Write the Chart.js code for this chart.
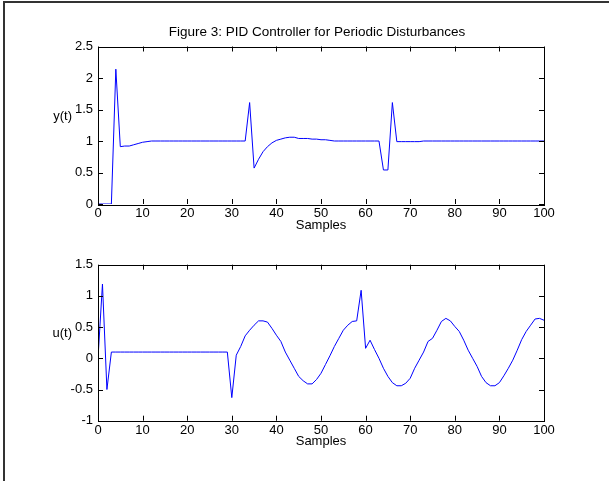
<!DOCTYPE html>
<html>
<head>
<meta charset="utf-8">
<script src="https://cdn.jsdelivr.net/npm/chart.js@4"></script>
<style>
  body { margin: 0; background: #fff; }
  #page { position: relative; width: 609px; height: 481px; overflow: hidden; }
  #frame { position: absolute; left: 3px; top: 1px; width: 620px; height: 500px;
           border-left: 2px solid #333; border-top: 2px solid #333; }
  .box { position: absolute; left: 0; width: 609px; }
</style>
</head>
<body>
<div id="page">
  <div class="box" style="top:0;height:240px"><canvas id="topChart"></canvas></div>
  <div class="box" style="top:240px;height:241px"><canvas id="bottomChart"></canvas></div>
  <div id="frame"></div>
</div>
<script>
// chart data
const figTitle = 'Figure 3: PID Controller for Periodic Disturbances';
const xTicks = [0, 10, 20, 30, 40, 50, 60, 70, 80, 90, 100];
const yTicksTop = [0, 0.5, 1, 1.5, 2, 2.5];
const yTicksBottom = [-1, -0.5, 0, 0.5, 1, 1.5];

const samples = [];
for (let i = 0; i <= 100; i++) samples.push(i);

// y(t), samples 0..100
const yOut = [
  0, 0, 0, 0, 2.14, 0.91, 0.92, 0.92, 0.94, 0.96,      // 0-9
  0.98, 0.99, 1, 1, 1, 1, 1, 1, 1, 1,                  // 10-19
  1, 1, 1, 1, 1, 1, 1, 1, 1, 1,                        // 20-29
  1, 1, 1, 1, 1.61, 0.57, 0.71, 0.83, 0.91, 0.97,      // 30-39
  1.01, 1.03, 1.05, 1.06, 1.06, 1.04, 1.04, 1.04, 1.03, 1.03, // 40-49
  1.02, 1.02, 1.01, 1, 1, 1, 1, 1, 1, 1,               // 50-59
  1, 1, 1, 1, 0.54, 0.54, 1.61, 0.99, 0.99, 0.99,      // 60-69
  0.99, 0.99, 0.99, 1, 1, 1, 1, 1, 1, 1,               // 70-79
  1, 1, 1, 1, 1, 1, 1, 1, 1, 1,                        // 80-89
  1, 1, 1, 1, 1, 1, 1, 1, 1, 1,                        // 90-99
  1                                                    // 100
];

// u(t), samples 0..100
const uIn = [
  0, 1.19, -0.5, 0.1, 0.1, 0.1, 0.1, 0.1, 0.1, 0.1,    // 0-9
  0.1, 0.1, 0.1, 0.1, 0.1, 0.1, 0.1, 0.1, 0.1, 0.1,    // 10-19
  0.1, 0.1, 0.1, 0.1, 0.1, 0.1, 0.1, 0.1, 0.1, 0.1,    // 20-29
  -0.63, 0.05, 0.19, 0.36, 0.45, 0.53, 0.6, 0.6, 0.58, 0.48, // 30-39
  0.37, 0.27, 0.1, -0.03, -0.16, -0.29, -0.36, -0.41, -0.41, -0.34, // 40-49
  -0.24, -0.1, 0.04, 0.19, 0.32, 0.45, 0.53, 0.59, 0.6, 1.09, // 50-59
  0.16, 0.29, 0.14, 0, -0.16, -0.29, -0.39, -0.44, -0.44, -0.4, // 60-69
  -0.32, -0.16, -0.03, 0.1, 0.27, 0.32, 0.45, 0.59, 0.64, 0.6, // 70-79
  0.51, 0.43, 0.29, 0.13, 0, -0.13, -0.29, -0.39, -0.44, -0.44, // 80-89
  -0.39, -0.28, -0.16, -0.03, 0.13, 0.3, 0.43, 0.53, 0.63, 0.64, // 90-99
  0.61                                                 // 100
];

const FONT = 'Arial, "Liberation Sans", sans-serif';

// box + inward ticks + labels (matlab style axes)
const axesPlugin = {
  id: 'axesBox',
  afterDraw(chart, args, opts) {
    const ctx = chart.ctx;
    const a = chart.chartArea;
    const xs = chart.scales.x, ys = chart.scales.y;
    ctx.save();
    ctx.strokeStyle = '#000';
    ctx.lineWidth = 1;
    ctx.beginPath();
    xs.ticks.forEach(t => {
      const px = Math.round(xs.getPixelForValue(t.value)) + 0.5;
      ctx.moveTo(px, a.bottom); ctx.lineTo(px, a.bottom - 5);
      ctx.moveTo(px, a.top); ctx.lineTo(px, a.top + 5);
    });
    ys.ticks.forEach(t => {
      const py = Math.round(ys.getPixelForValue(t.value)) + 0.5;
      ctx.moveTo(a.left, py); ctx.lineTo(a.left + 5, py);
      ctx.moveTo(a.right, py); ctx.lineTo(a.right - 5, py);
    });
    ctx.stroke();
    ctx.strokeRect(Math.round(a.left) + 0.5, Math.round(a.top) + 0.5,
      Math.round(a.right - a.left), Math.round(a.bottom - a.top));

    ctx.fillStyle = '#000';
    ctx.font = '13px ' + FONT;
    ctx.textBaseline = 'middle';
    ctx.textAlign = 'center';
    ctx.fillText('Samples', (a.left + a.right) / 2, a.bottom + 21);
    ctx.textAlign = 'right';
    ctx.fillText(opts.yLabel, a.left - 26, (a.top + a.bottom) / 2 - 9);
    if (opts.title) {
      ctx.font = '13.5px ' + FONT;
      ctx.textAlign = 'center';
      ctx.fillText(opts.title, (a.left + a.right) / 2 - 4, a.top - 14);
    }
    ctx.restore();
  }
};

function makeChart(id, values, yMin, yMax, yTickList, pad, xAxisH, yLabel, title) {
  return new Chart(document.getElementById(id), {
    type: 'line',
    data: {
      datasets: [{
        data: samples.map((s, i) => ({ x: s, y: values[i] })),
        borderColor: '#0000ff',
        borderWidth: 1,
        pointRadius: 0,
        tension: 0,
        fill: false
      }]
    },
    options: {
      responsive: true,
      maintainAspectRatio: false,
      animation: false,
      events: [],
      layout: { padding: { left: 0, right: 65, top: pad, bottom: 0 } },
      plugins: {
        legend: { display: false },
        tooltip: { enabled: false },
        axesBox: { yLabel: yLabel, title: title }
      },
      scales: {
        x: {
          type: 'linear',
          min: 0, max: 100,
          afterBuildTicks: s => { s.ticks = xTicks.map(v => ({ value: v })); },
          afterFit: s => { s.height = xAxisH; },
          grid: { display: false, drawTicks: false, tickLength: 0 },
          border: { display: false },
          ticks: { color: '#000', padding: 2, maxRotation: 0, font: { size: 13, family: FONT },
                   callback: v => String(v) }
        },
        y: {
          min: yMin, max: yMax,
          afterBuildTicks: s => { s.ticks = yTickList.map(v => ({ value: v })); },
          afterFit: s => { s.width = 98; },
          grid: { display: false, drawTicks: false, tickLength: 0 },
          border: { display: false },
          ticks: { color: '#000', padding: 5, font: { size: 13, family: FONT },
                   callback: v => String(v) }
        }
      }
    },
    plugins: [axesPlugin]
  });
}

makeChart('topChart', yOut, 0, 2.5, yTicksTop, 46.5, 36, 'y(t)', figTitle);
makeChart('bottomChart', uIn, -1, 1.5, yTicksBottom, 24.7, 60.3, 'u(t)', null);
</script>
</body>
</html>
